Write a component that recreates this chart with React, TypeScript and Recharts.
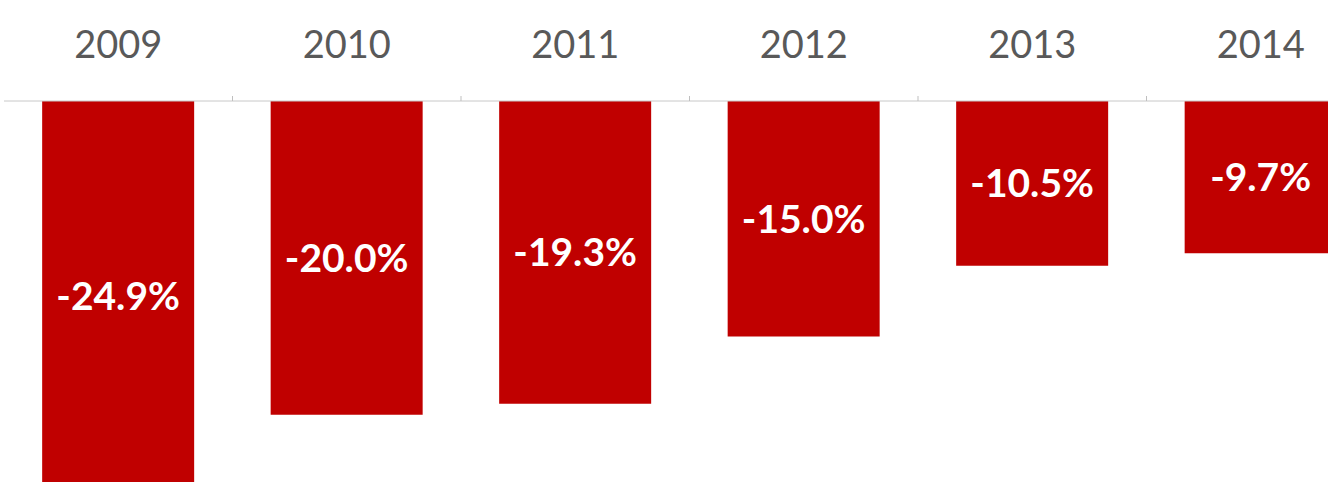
import React from "react";
import { BarChart, Bar, XAxis, YAxis, LabelList } from "recharts";

const years = ["2009", "2010", "2011", "2012", "2013", "2014"];
const changes = [-24.9, -20.0, -19.3, -15.0, -10.5, -9.7];

const data = years.map((year, i) => ({ year, change: changes[i] }));

const CHART_W = 1376;
const CHART_H = 509;
const MARGIN = { top: 0, right: 1, bottom: 0, left: 4 };
const BAND = (CHART_W - MARGIN.left - MARGIN.right) / years.length;
const AXIS_H = 101;

const YearTick = (props: any) => {
  const { x, y, payload, index } = props;
  const axisY = AXIS_H;
  return (
    <g>
      <text
        x={x}
        y={y}
        textAnchor="middle"
        dominantBaseline="central"
        fill="#595959"
        fontSize={38}
        fontFamily="Lato, 'Liberation Sans', sans-serif"
      >
        {payload.value}
      </text>
      {index < years.length - 1 && (
        <line
          x1={x + BAND / 2}
          x2={x + BAND / 2}
          y1={axisY - 5}
          y2={axisY}
          stroke="#bfbfbf"
          strokeWidth={1}
        />
      )}
    </g>
  );
};

export default function App() {
  return (
    <div
      style={{
        position: "absolute",
        left: 0,
        top: 0,
        width: 1328,
        height: 482,
        overflow: "hidden",
        background: "#ffffff",
      }}
    >
      <BarChart
        width={CHART_W}
        height={CHART_H}
        data={data}
        margin={MARGIN}
        barCategoryGap="16.7%"
      >
        <XAxis
          dataKey="year"
          orientation="top"
          height={AXIS_H}
          axisLine={{ stroke: "#c8c8c8", strokeWidth: 1 }}
          tickLine={false}
          tickSize={0}
          tickMargin={58}
          tick={<YearTick />}
          interval={0}
        />
        <YAxis hide domain={[-26, 0]} type="number" />
        <Bar dataKey="change" fill="#c00000" isAnimationActive={false}>
          <LabelList
            dataKey="change"
            position="center"
            fill="#ffffff"
            fontSize={39}
            fontWeight="bold"
            fontFamily="Lato, 'Liberation Sans', sans-serif"
            formatter={(v: any) => `${Number(v).toFixed(1)}%`}
          />
        </Bar>
      </BarChart>
    </div>
  );
}
